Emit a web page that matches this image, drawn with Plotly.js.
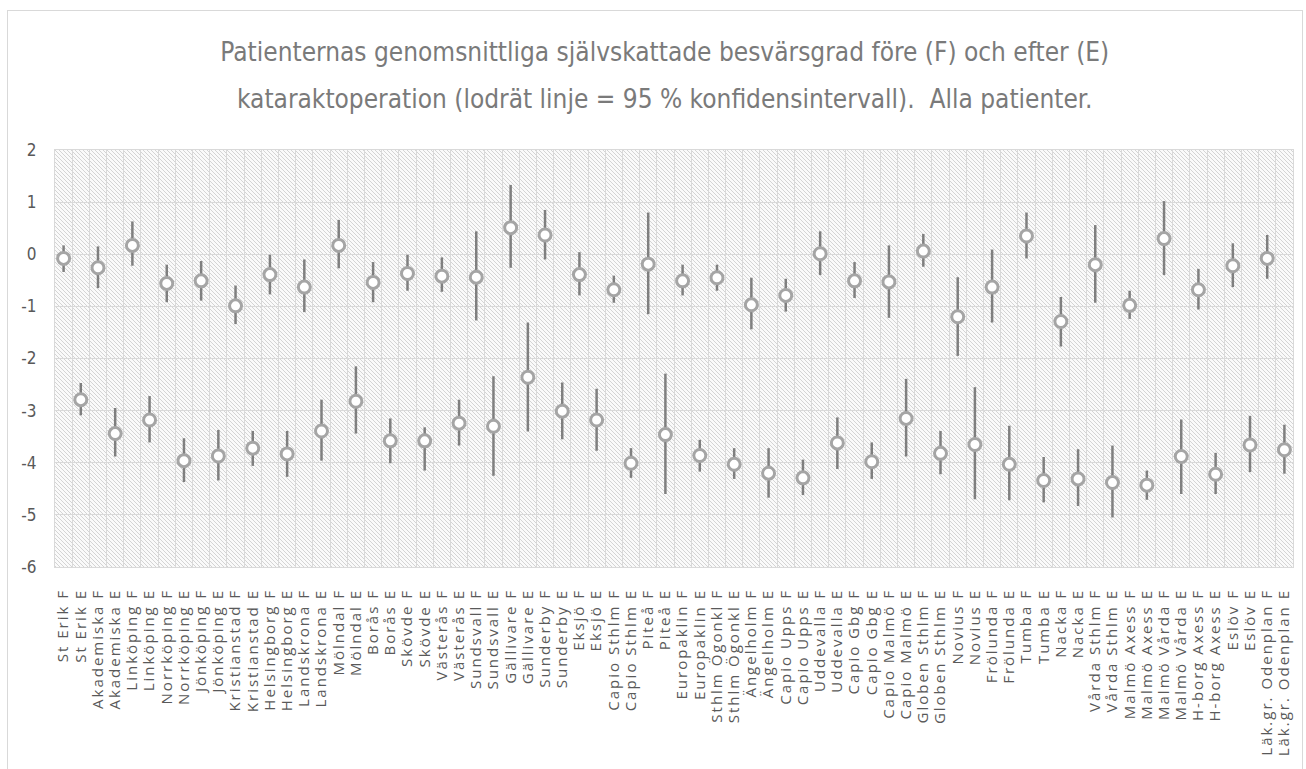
<!DOCTYPE html>
<html>
<head>
<meta charset="utf-8">
<script src="https://cdn.plot.ly/plotly-3.0.1.min.js"></script>
<style>
  html, body { margin: 0; padding: 0; background: #ffffff; }
  #frame { position: absolute; left: 7px; top: 10px; width: 1296px; height: 800px; border: 1px solid #d9d9d9; box-sizing: border-box; }
  #hatch { position: absolute; left: 55px; top: 150px; width: 1238px; height: 417px;
           background-color: #fafafa;
           background-image: url("data:image/svg+xml;utf8,<svg xmlns='http://www.w3.org/2000/svg' width='4' height='4' shape-rendering='crispEdges'><rect x='0' y='0' width='1' height='1' fill='%23d4d4d4'/><rect x='1' y='1' width='1' height='1' fill='%23d4d4d4'/><rect x='2' y='2' width='1' height='1' fill='%23d4d4d4'/><rect x='3' y='3' width='1' height='1' fill='%23d4d4d4'/></svg>");
           background-size: 4px 4px; }
  #chart { position: absolute; left: 0; top: 0; width: 1306px; height: 769px; }
</style>
</head>
<body>
<div id="frame"></div>
<div id="hatch"></div>
<div id="chart"></div>
<script>
// Clinics (each has a before (F) and after (E) value)
const clinics = ["St Erik","Akademiska","Linköping","Norrköping","Jönköping","Kristianstad","Helsingborg","Landskrona","Mölndal","Borås","Skövde","Västerås","Sundsvall","Gällivare","Sunderby","Eksjö","Capio Sthlm","Piteå","Europaklin","Sthlm Ögonkl","Ängelholm","Capio Upps","Uddevalla","Capio Gbg","Capio Malmö","Globen Sthlm","Novius","Frölunda","Tumba","Nacka","Vårda Sthlm","Malmö Axess","Malmö Vårda","H-borg Axess","Eslöv","Läk.gr. Odenplan"];

// Före (F): mean and 95 % CI
const meanF = [-0.08,-0.26,0.17,-0.56,-0.51,-0.99,-0.39,-0.63,0.17,-0.54,-0.37,-0.42,-0.44,0.51,0.37,-0.39,-0.68,-0.19,-0.51,-0.45,-0.97,-0.79,0.01,-0.51,-0.53,0.06,-1.20,-0.63,0.35,-1.29,-0.20,-0.98,0.30,-0.68,-0.22,-0.08];
const lowF  = [-0.34,-0.65,-0.22,-0.92,-0.89,-1.34,-0.77,-1.11,-0.27,-0.92,-0.70,-0.72,-1.27,-0.26,-0.10,-0.79,-0.93,-1.15,-0.79,-0.70,-1.44,-1.10,-0.40,-0.84,-1.22,-0.24,-1.95,-1.31,-0.08,-1.77,-0.93,-1.24,-0.40,-1.06,-0.63,-0.47];
const highF = [0.17,0.15,0.63,-0.20,-0.13,-0.60,-0.01,-0.10,0.66,-0.15,-0.01,-0.06,0.44,1.33,0.85,0.04,-0.41,0.80,-0.20,-0.20,-0.45,-0.47,0.44,-0.15,0.17,0.39,-0.44,0.09,0.80,-0.82,0.56,-0.70,1.02,-0.28,0.21,0.37];

// Efter (E): mean and 95 % CI
const meanE = [-2.79,-3.44,-3.18,-3.96,-3.87,-3.72,-3.83,-3.39,-2.82,-3.58,-3.58,-3.24,-3.30,-2.36,-3.01,-3.18,-4.01,-3.46,-3.86,-4.03,-4.20,-4.29,-3.62,-3.98,-3.15,-3.82,-3.65,-4.03,-4.34,-4.31,-4.38,-4.43,-3.88,-4.22,-3.66,-3.75];
const lowE  = [-3.09,-3.88,-3.61,-4.37,-4.34,-4.06,-4.27,-3.96,-3.44,-4.01,-4.15,-3.67,-4.25,-3.40,-3.55,-3.77,-4.29,-4.60,-4.17,-4.31,-4.67,-4.62,-4.12,-4.31,-3.88,-4.22,-4.70,-4.72,-4.76,-4.83,-5.05,-4.71,-4.60,-4.60,-4.18,-4.21];
const highE = [-2.47,-2.95,-2.72,-3.53,-3.37,-3.39,-3.39,-2.79,-2.15,-3.15,-3.32,-2.79,-2.34,-1.31,-2.46,-2.58,-3.72,-2.29,-3.56,-3.72,-3.72,-3.94,-3.13,-3.61,-2.39,-3.39,-2.55,-3.29,-3.89,-3.74,-3.67,-4.15,-3.17,-3.81,-3.10,-3.27];

// Y tick labels
const yTickVals = [2,1,0,-1,-2,-3,-4,-5,-6];
const yTickText = ["2","1","0","-1","-2","-3","-4","-5","-6"];

const titleLine1 = "Patienternas genomsnittliga självskattade besvärsgrad före (F) och efter (E)";
const titleLine2 = "kataraktoperation (lodrät linje = 95 % konfidensintervall).&nbsp; Alla patienter.";

const catF = clinics.map(c => c + " F");
const catE = clinics.map(c => c + " E");
const categories = [];
clinics.forEach((c, i) => { categories.push(catF[i], catE[i]); });

function makeTrace(x, mean, low, high, name) {
  return {
    type: "scatter", mode: "markers", name: name, x: x, y: mean,
    marker: { symbol: "circle", size: 12, color: "#ffffff", line: { color: "#a5a5a5", width: 3 } },
    error_y: { type: "data", symmetric: false,
      array: high.map((h, i) => h - mean[i]),
      arrayminus: mean.map((m, i) => m - low[i]),
      color: "#7f7f7f", thickness: 2.5, width: 0 },
    hoverinfo: "x+y", showlegend: false
  };
}

const data = [
  makeTrace(catF, meanF, lowF, highF, "F"),
  makeTrace(catE, meanE, lowE, highE, "E")
];

const layout = {
  width: 1306, height: 769,
  margin: { l: 55, r: 13, t: 150, b: 202 },
  paper_bgcolor: "rgba(0,0,0,0)",
  plot_bgcolor: "rgba(0,0,0,0)",
  showlegend: false,
  title: {
    text: '<span style="font-size:26px">' + titleLine1 + '</span><br><span style="font-size:26px">' + titleLine2 + '</span>',
    font: { family: "Liberation Sans Narrow, DejaVu Sans Condensed, Arial Narrow, sans-serif", size: 36, color: "#7a7a7a" },
    x: 0.509, xref: "container", xanchor: "center",
    y: 0.921, yref: "container", yanchor: "top"
  },
  xaxis: {
    type: "category", categoryorder: "array", categoryarray: categories,
    range: [-0.5, categories.length - 0.5],
    tickmode: "linear", tick0: 0, dtick: 1,
    tickson: "boundaries", ticks: "", tickangle: -90,
    showgrid: true, gridcolor: "#d9d9d9", gridwidth: 1,
    showline: true, mirror: true, linecolor: "#d9d9d9", linewidth: 1,
    zeroline: false,
    tickfont: { family: "Open Sans, sans-serif", size: 15, color: "#595959" },
    ticklabelstandoff: 15, automargin: false
  },
  yaxis: {
    range: [-6, 2], tickvals: yTickVals, ticktext: yTickText,
    showgrid: true, gridcolor: "#d9d9d9", gridwidth: 1,
    showline: true, mirror: true, linecolor: "#d9d9d9", linewidth: 1,
    zeroline: false, ticks: "",
    tickfont: { family: "Liberation Sans Narrow, DejaVu Sans Condensed, Arial Narrow, sans-serif", size: 17, color: "#595959" },
    ticklabelstandoff: 14, automargin: false
  }
};

Plotly.newPlot("chart", data, layout, { displayModeBar: false, staticPlot: true }).then(gd => {
  // Widen the category labels' letter spacing, as in the original chart
  gd.querySelectorAll(".xaxislayer-above .xtick text").forEach(t => { t.style.letterSpacing = "2px"; });
});
</script>
</body>
</html>
